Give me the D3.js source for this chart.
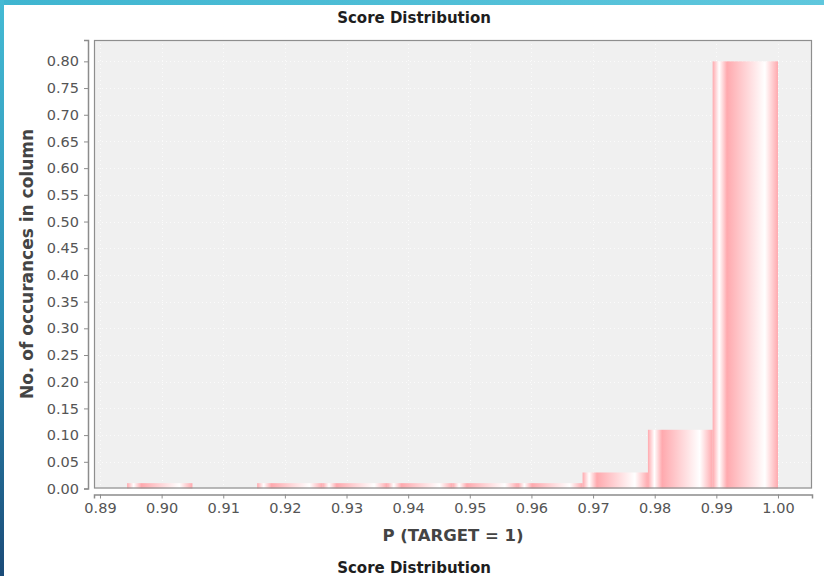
<!DOCTYPE html>
<html>
<head>
<meta charset="utf-8">
<script src="https://cdn.jsdelivr.net/npm/d3@7/dist/d3.min.js"></script>
<style>
  html, body { margin: 0; padding: 0; background: #ffffff; }
  svg { display: block; }
</style>
</head>
<body>
<svg id="chart" width="824" height="576"></svg>
<script>
// Histogram bins of P(TARGET = 1): lower edge, upper edge and share of rows
const binStart = [0.8944, 0.9050, 0.9155, 0.9261, 0.9366, 0.9472, 0.9578, 0.9683, 0.9789, 0.9894];
const binEnd   = [0.9050, 0.9155, 0.9261, 0.9366, 0.9472, 0.9578, 0.9683, 0.9789, 0.9894, 1.0000];
const share    = [0.01, 0.00, 0.01, 0.01, 0.01, 0.01, 0.01, 0.03, 0.11, 0.80];

const xTicks = [0.89, 0.90, 0.91, 0.92, 0.93, 0.94, 0.95, 0.96, 0.97, 0.98, 0.99, 1.00];
const yTicks = [0.00, 0.05, 0.10, 0.15, 0.20, 0.25, 0.30, 0.35, 0.40, 0.45, 0.50, 0.55, 0.60, 0.65, 0.70, 0.75, 0.80];

const titleText = "Score Distribution";
const xLabel = "P (TARGET = 1)";
const yLabel = "No. of occurances in column";

const W = 824, H = 576;
const plot = { left: 94, right: 812, top: 40, bottom: 488.5 };
const FONT = "'DejaVu Sans', sans-serif";

const svg = d3.select("#chart");
const defs = svg.append("defs");

// Window frame accents
const gTop = defs.append("linearGradient").attr("id", "frameTop")
  .attr("x1", 0).attr("x2", 1).attr("y1", 0).attr("y2", 0);
gTop.append("stop").attr("offset", 0).attr("stop-color", "#3fb5d0");
gTop.append("stop").attr("offset", 1).attr("stop-color", "#5fc7dd");

const gLeft = defs.append("linearGradient").attr("id", "frameLeft")
  .attr("x1", 0).attr("x2", 0).attr("y1", 0).attr("y2", 1);
gLeft.append("stop").attr("offset", 0).attr("stop-color", "#44bad4");
gLeft.append("stop").attr("offset", 0.55).attr("stop-color", "#2b8db3");
gLeft.append("stop").attr("offset", 1).attr("stop-color", "#1b4b78");

// Striped bar fill: base, white, base, white, base across the bar width
const barBase = "#ffa9ae";
const gBar = defs.append("linearGradient").attr("id", "barFill")
  .attr("x1", 0).attr("x2", 1).attr("y1", 0).attr("y2", 0);
[[0, barBase], [0.10, "#ffffff"], [0.22, barBase], [0.80, "#ffffff"], [1, barBase]]
  .forEach(([o, c]) => gBar.append("stop").attr("offset", o).attr("stop-color", c));

svg.append("rect").attr("x", 0).attr("y", 0).attr("width", W).attr("height", H).attr("fill", "#ffffff");

// Scales
const x = d3.scaleLinear().domain([0.88903, 1.00552]).range([plot.left, plot.right]);
const y = d3.scaleLinear().domain([0, 0.84]).range([plot.bottom, plot.top]);

// Plot background
svg.append("rect")
  .attr("x", plot.left).attr("y", plot.top)
  .attr("width", plot.right - plot.left).attr("height", plot.bottom - plot.top)
  .attr("fill", "#f0f0f0");

// Gridlines (faint dotted white)
const grid = svg.append("g").attr("stroke", "#ffffff").attr("stroke-opacity", 0.75)
  .attr("stroke-width", 1).attr("stroke-dasharray", "1,3");
grid.selectAll("line.v").data(xTicks).join("line")
  .attr("x1", d => Math.round(x(d)) + 0.5).attr("x2", d => Math.round(x(d)) + 0.5)
  .attr("y1", plot.top).attr("y2", plot.bottom);
grid.selectAll("line.h").data(yTicks).join("line")
  .attr("y1", d => Math.round(y(d)) + 0.5).attr("y2", d => Math.round(y(d)) + 0.5)
  .attr("x1", plot.left).attr("x2", plot.right);

// Bars
const bins = share.map((v, i) => ({ x0: binStart[i], x1: binEnd[i], v }));
svg.append("g").selectAll("rect").data(bins.filter(d => d.v > 0)).join("rect")
  .attr("x", d => x(d.x0))
  .attr("width", d => x(d.x1) - x(d.x0))
  .attr("y", d => y(d.v))
  .attr("height", d => y(0) - y(d.v))
  .attr("fill", "url(#barFill)");

// Plot outline
svg.append("rect")
  .attr("x", plot.left + 0.5).attr("y", plot.top + 0.5)
  .attr("width", plot.right - plot.left - 1).attr("height", plot.bottom - plot.top - 1)
  .attr("fill", "none").attr("stroke", "#8e8e8e").attr("stroke-width", 1.2);

// Axes
const axisColor = "#8c8c8c";
const tickColor = "#555555";

const xAxis = svg.append("g")
  .attr("transform", `translate(0,${plot.bottom + 6})`)
  .call(d3.axisBottom(x).tickValues(xTicks).tickFormat(d3.format(".2f")).tickSizeOuter(0).tickSize(4).tickPadding(4));

const yAxis = svg.append("g")
  .attr("transform", `translate(${plot.left - 6},0)`)
  .call(d3.axisLeft(y).tickValues(yTicks).tickFormat(d3.format(".2f")).tickSizeOuter(0).tickSize(4).tickPadding(5));

[xAxis, yAxis].forEach(a => {
  a.select(".domain").attr("stroke", axisColor).attr("stroke-width", 1.5);
  a.selectAll(".tick line").attr("stroke", axisColor).attr("stroke-width", 1);
  a.selectAll(".tick text").attr("fill", tickColor).attr("font-family", FONT).attr("font-size", "14.5px");
});

// Titles
svg.append("text")
  .attr("x", (plot.left + plot.right) / 2 - 39).attr("y", 22.5)
  .attr("text-anchor", "middle")
  .attr("font-family", FONT).attr("font-weight", "bold").attr("font-size", "15px")
  .attr("fill", "#1e1e1e")
  .text(titleText);

svg.append("text")
  .attr("x", (plot.left + plot.right) / 2).attr("y", 541)
  .attr("text-anchor", "middle")
  .attr("font-family", FONT).attr("font-weight", "bold").attr("font-size", "16.5px")
  .attr("fill", "#444444")
  .text(xLabel);

svg.append("text")
  .attr("transform", `translate(33,264) rotate(-90)`)
  .attr("text-anchor", "middle")
  .attr("font-family", FONT).attr("font-weight", "bold").attr("font-size", "17px")
  .attr("fill", "#444444")
  .text(yLabel);

// Caption of the next panel, near the bottom edge
svg.append("text")
  .attr("x", (plot.left + plot.right) / 2 - 39).attr("y", 573)
  .attr("text-anchor", "middle")
  .attr("font-family", FONT).attr("font-weight", "bold").attr("font-size", "15px")
  .attr("fill", "#1e1e1e")
  .text(titleText);

// Frame accents
svg.append("rect").attr("x", 0).attr("y", 0).attr("width", W).attr("height", 5).attr("fill", "url(#frameTop)");
svg.append("rect").attr("x", 0).attr("y", 0).attr("width", 4).attr("height", H).attr("fill", "url(#frameLeft)");
</script>
</body>
</html>
